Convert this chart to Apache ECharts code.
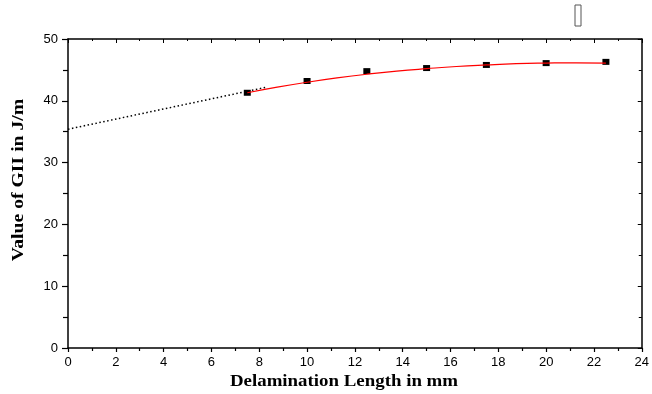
<!DOCTYPE html>
<html><head><meta charset="utf-8">
<script src="https://cdn.jsdelivr.net/npm/echarts@6/dist/echarts.min.js"></script>
<style>html,body{margin:0;padding:0;background:#fff}#c{width:652px;height:394px}</style>
</head><body><div id="c"></div>
<script>
var measuredX = [7.5, 10, 12.5, 15, 17.5, 20, 22.5];
var measuredY = [41.3, 43.2, 44.8, 45.3, 45.8, 46.1, 46.3];
var fitX = [7.5, 8.75, 10, 11.25, 12.5, 13.75, 15, 16.25, 17.5, 18.75, 20, 21.25, 22.5];
var fitY = [41.3, 42.2, 43.0, 43.7, 44.3, 44.8, 45.2, 45.55, 45.8, 46.0, 46.1, 46.15, 46.1];
var extrapX = [0, 8.3];
var extrapY = [35.4, 42.2];
var xTitle = 'Delamination Length in mm';
var yTitle = 'Value of GII in J/m';

function pairs(xs, ys){ return xs.map(function(x,i){return [x, ys[i]];}); }
var chart = echarts.init(document.getElementById('c'));
var labelFont = {fontFamily:'Liberation Sans', fontSize:13, color:'#000'};
var titleFont = 'bold 16px "Liberation Serif"';
chart.setOption({
  animation:false,
  grid:{left:68, right:7, top:39, bottom:46, containLabel:false},
  xAxis:[{
    type:'value', min:0, max:24, interval:2, position:'bottom',
    axisLine:{onZero:false, lineStyle:{color:'#000', width:1.5}},
    axisTick:{show:true, inside:false, length:4, lineStyle:{color:'#000', width:1.2}},
    minorTick:{show:true, splitNumber:2, length:3, lineStyle:{color:'#000', width:1.2}},
    axisLabel:Object.assign({margin:8}, labelFont),
    splitLine:{show:false}
  },{
    type:'value', min:0, max:24, interval:2, position:'top',
    axisLine:{onZero:false, lineStyle:{color:'#000', width:1.5}},
    axisTick:{show:true, inside:true, length:4, lineStyle:{color:'#000'}},
    minorTick:{show:true, splitNumber:2, length:2, lineStyle:{color:'#000'}},
    axisLabel:{show:false}, splitLine:{show:false}
  }],
  yAxis:[{
    type:'value', min:0, max:50, interval:10, position:'left',
    axisLine:{onZero:false, lineStyle:{color:'#000', width:1.5}},
    axisTick:{show:true, inside:false, length:6, lineStyle:{color:'#000', width:1.2}},
    minorTick:{show:true, splitNumber:2, length:5, lineStyle:{color:'#000', width:1.2}},
    axisLabel:Object.assign({margin:10}, labelFont),
    splitLine:{show:false}
  },{
    type:'value', min:0, max:50, interval:10, position:'right',
    axisLine:{onZero:false, lineStyle:{color:'#000', width:1.5}},
    axisTick:{show:true, inside:true, length:4, lineStyle:{color:'#000'}},
    minorTick:{show:true, splitNumber:2, length:3, lineStyle:{color:'#000'}},
    axisLabel:{show:false}, splitLine:{show:false}
  }],
  series:[{
    type:'line', data:pairs(extrapX, extrapY), symbol:'none',
    lineStyle:{color:'#000', width:1.5, type:[1.5,2.5]}
  },{
    type:'line', data:pairs(fitX, fitY), symbol:'none', smooth:true,
    lineStyle:{color:'#ff0000', width:1.2}
  },{
    type:'scatter', data:pairs(measuredX, measuredY), symbol:'rect', symbolSize:[7,6],
    itemStyle:{color:'#000', opacity:1}
  }],
  graphic:[
    {type:'rect', shape:{x:575, y:5, width:6, height:21}, style:{fill:'none', stroke:'#555', lineWidth:1}},
    {type:'text', x:344, y:382, scaleX:1.18, style:{text:xTitle, font:titleFont, fill:'#000', align:'center', verticalAlign:'middle'}},
    {type:'text', x:19, y:180, rotation:Math.PI/2, scaleX:1.16, style:{text:yTitle, font:'bold 17px "Liberation Serif"', fill:'#000', align:'center', verticalAlign:'middle'}}
  ]
});
</script></body></html>
